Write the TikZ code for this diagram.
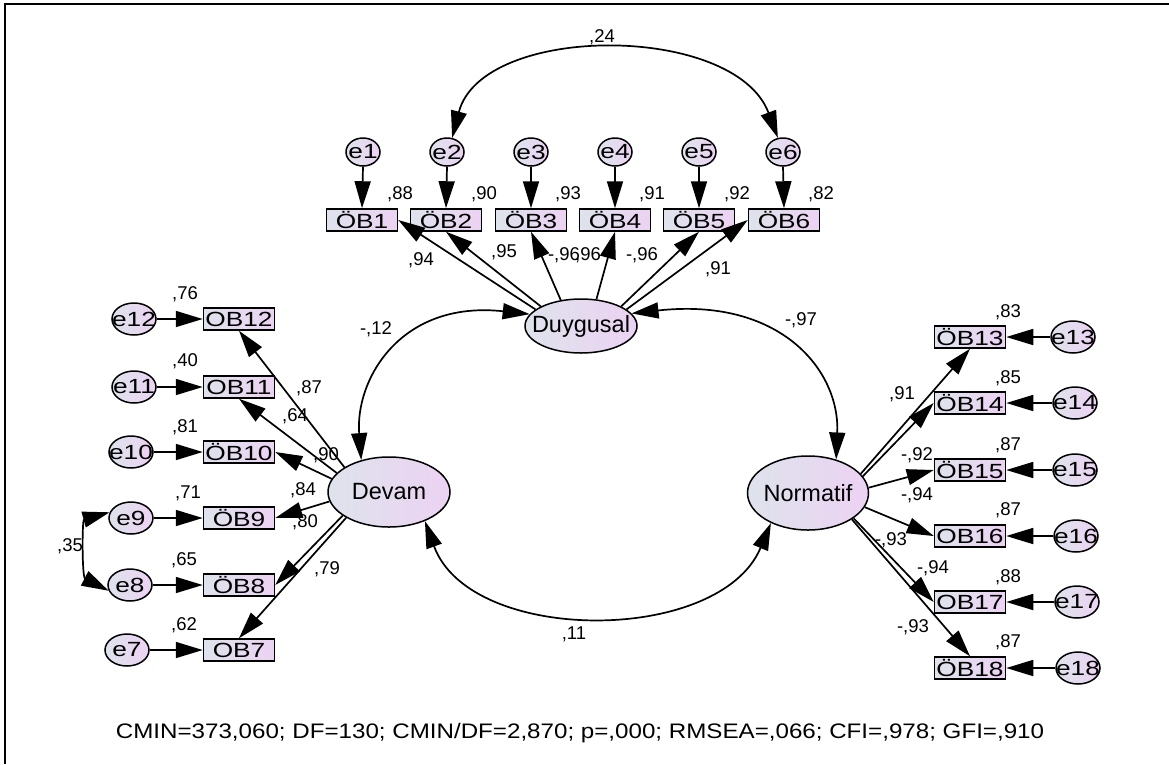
\documentclass[tikz,border=0pt]{standalone}
\usepackage{fontspec}
\usetikzlibrary{arrows.meta,shapes.geometric}
\setmainfont{Liberation Sans}
\newfontfamily\sansplain{Liberation Sans}
\newfontfamily\sanswide[FakeStretch=1.28]{Liberation Sans}
\newfontfamily\sansfit[FakeStretch=1.15]{Liberation Sans}
\newcommand\obsfont{\sanswide\fontsize{20.5pt}{21pt}\selectfont}
\newcommand\latfont{\sansplain\fontsize{23.5pt}{24pt}\selectfont}
\newcommand\coeffont{\sansplain\fontsize{18.5pt}{19pt}\selectfont}
\newcommand\fitfont{\sansfit\fontsize{21pt}{22pt}\selectfont}
\definecolor{fillL}{RGB}{222,227,236}
\definecolor{fillR}{RGB}{236,210,243}

\tikzset{
  obs/.style={rectangle, draw=black, line width=1.5pt, minimum width=71pt,
    minimum height=22pt, inner sep=0pt, left color=fillL, right color=fillR, font=\obsfont},
  err/.style={ellipse, draw=black, line width=1.5pt, inner sep=-10pt,
    left color=fillL, right color=fillR, font=\obsfont},
  errtop/.style={err, minimum width=34pt, minimum height=28pt},
  errside/.style={err, minimum width=44pt, minimum height=32pt},
  lat/.style={ellipse, draw=black, line width=1.5pt, inner sep=-12pt,
    left color=fillL, right color=fillR, font=\latfont},
  coef/.style={inner sep=0pt, font=\coeffont},
  reg/.style={line width=1.7pt, -{Triangle[length=27pt,width=16pt]}},
  cov/.style={line width=1.7pt, {Triangle[length=27pt,width=16pt]}-{Triangle[length=27pt,width=16pt]}},
}

\begin{document}
\begin{tikzpicture}[x=1pt, y=-1pt]
\useasboundingbox (0,0) rectangle (1169,764);
\fill[white] (0,0) rectangle (1169,764);

% frame
\draw[line width=2pt] (5,764) -- (5,4) -- (1169,4);

% coefficients
\node[coef] (c24) at (602,37) {,24};
\node[coef] (v1) at (400,194) {,88};
\node[coef] (v2) at (484,194) {,90};
\node[coef] (v3) at (568,194) {,93};
\node[coef] (v4) at (652,194) {,91};
\node[coef] (v5) at (737,194) {,92};
\node[coef] (v6) at (821,194) {,82};
\node[coef] (l1) at (421,260) {,94};
\node[coef] (l2) at (504,252) {,95};
\node[coef] (l3) at (564,255) {-,96};
\node[coef] (l4) at (588,255) {,96};
\node[coef] (l5) at (642,255) {-,96};
\node[coef] (l6) at (718,269) {,91};

\node[coef] (v12) at (185,294) {,76};
\node[coef] (v11) at (185,361) {,40};
\node[coef] (v10) at (185,427) {,81};
\node[coef] (v9) at (188,493) {,71};
\node[coef] (v8) at (184,560) {,65};
\node[coef] (v7) at (184,625) {,62};
\node[coef] (l12) at (309,388) {,87};
\node[coef] (l11) at (295,416) {,64};
\node[coef] (l10) at (326,455) {,90};
\node[coef] (l9) at (303,490) {,84};
\node[coef] (l8) at (305,522) {,80};
\node[coef] (l7) at (327,569) {,79};
\node[coef] (c35) at (70,546) {,35};

\node[coef] (v13) at (1008,312) {,83};
\node[coef] (v14) at (1008,378) {,85};
\node[coef] (v15) at (1008,445) {,87};
\node[coef] (v16) at (1008,510) {,87};
\node[coef] (v17) at (1008,577) {,88};
\node[coef] (v18) at (1008,642) {,87};
\node[coef] (l13) at (902,394) {,91};
\node[coef] (l14) at (917,455) {-,92};
\node[coef] (l15) at (917,495) {-,94};
\node[coef] (l16) at (891,540) {-,93};
\node[coef] (l17) at (933,568) {-,94};
\node[coef] (l18) at (913,627) {-,93};

\node[coef] (c12) at (376,329) {-,12};
\node[coef] (c97) at (801,320) {-,97};
\node[coef] (c11) at (574,634) {,11};

\node[inner sep=0pt, font=\fitfont] (fit) at (580,733)
  {CMIN=373,060; DF=130; CMIN/DF=2,870; p=,000; RMSEA=,066; CFI=,978; GFI=,910};

% latent variables
\node[lat, minimum width=112pt, minimum height=54pt] (Duy) at (581,326) {Duygusal};
\node[lat, minimum width=122pt, minimum height=70pt] (Dev) at (389,492) {Devam};
\node[lat, minimum width=121pt, minimum height=74pt] (Nor) at (808,493) {Normatif};

% observed indicators, top row
\node[obs] (OB1) at (362,220) {ÖB1};
\node[obs] (OB2) at (446,220) {ÖB2};
\node[obs] (OB3) at (531,220) {ÖB3};
\node[obs] (OB4) at (615,220) {ÖB4};
\node[obs] (OB5) at (699,220) {ÖB5};
\node[obs] (OB6) at (784,220) {ÖB6};
\node[errtop] (e1) at (363,152) {e1};
\node[errtop] (e2) at (447,152) {e2};
\node[errtop] (e3) at (531,152) {e3};
\node[errtop] (e4) at (615,152) {e4};
\node[errtop] (e5) at (699,152) {e5};
\node[errtop] (e6) at (783,152) {e6};

% observed indicators, left column
\node[obs] (OB12) at (239,319) {OB12};
\node[obs] (OB11) at (239,387) {OB11};
\node[obs] (OB10) at (239,452) {ÖB10};
\node[obs] (OB9) at (239,518) {ÖB9};
\node[obs] (OB8) at (239,585) {ÖB8};
\node[obs] (OB7) at (239,650) {OB7};
\node[errside] (e12) at (134,319) {e12};
\node[errside] (e11) at (134,387) {e11};
\node[errside] (e10) at (131,452) {e10};
\node[errside] (e9) at (131,518) {e9};
\node[errside] (e8) at (130,585) {e8};
\node[errside] (e7) at (127,650) {e7};

% observed indicators, right column
\node[obs] (OB13) at (970,337) {ÖB13};
\node[obs] (OB14) at (970,403) {ÖB14};
\node[obs] (OB15) at (970,470) {ÖB15};
\node[obs] (OB16) at (970,536) {OB16};
\node[obs] (OB17) at (970,602) {OB17};
\node[obs] (OB18) at (970,668) {ÖB18};
\node[errside] (e13) at (1073,337) {e13};
\node[errside] (e14) at (1075,403) {e14};
\node[errside] (e15) at (1075,470) {e15};
\node[errside] (e16) at (1076,536) {e16};
\node[errside] (e17) at (1077,602) {e17};
\node[errside] (e18) at (1078,668) {e18};

% error paths
\foreach \i in {1,...,6} \draw[reg] (e\i.south) -- (OB\i.north);
\foreach \i in {7,...,12} \draw[reg] (e\i.east) -- (OB\i.west);
\foreach \i in {13,...,18} \draw[reg] (e\i.west) -- (OB\i.east);

% loadings
\draw[reg] (Duy.160) -- (OB1.east);
\draw[reg] (Duy.154) -- (OB2.south);
\draw[reg] (Duy.128) -- (OB3.south);
\draw[reg] (Duy.60) -- (OB4.south);
\draw[reg] (Duy.26) -- (OB5.south);
\draw[reg] (Duy.20) -- (OB6.west);

\draw[reg] (Dev.151) -- (OB12.south);
\draw[reg] (Dev.160) -- (OB11.south);
\draw[reg] (Dev.167) -- (OB10.east);
\draw[reg] (Dev.189) -- (OB9.east);
\draw[reg] (Dev.207) -- (OB8.east);
\draw[reg] (Dev.211) -- (OB7.north);

\draw[reg] (Nor.20) -- (OB13.south);
\draw[reg] (Nor.17) -- (OB14.west);
\draw[reg] (Nor.5) -- (OB15.west);
\draw[reg] (Nor.346) -- (OB16.west);
\draw[reg] (Nor.331) -- (OB17.west);
\draw[reg] (Nor.329) -- (OB18.north);

% covariances
\draw[cov] (e2.70) .. controls (482,23) and (735,23) .. (e6.110);
\draw[cov] (e9.165) .. controls (82,520) and (82,577) .. (e8.195);
\draw[cov] (Duy.167) .. controls (400,300) and (355,380) .. (Dev.131);
\draw[cov] (Duy.14) .. controls (780,297) and (840,370) .. (Nor.50);
\draw[cov] (Dev.321) .. controls (470,645) and (720,645) .. (Nor.219);
\end{tikzpicture}
\end{document}
